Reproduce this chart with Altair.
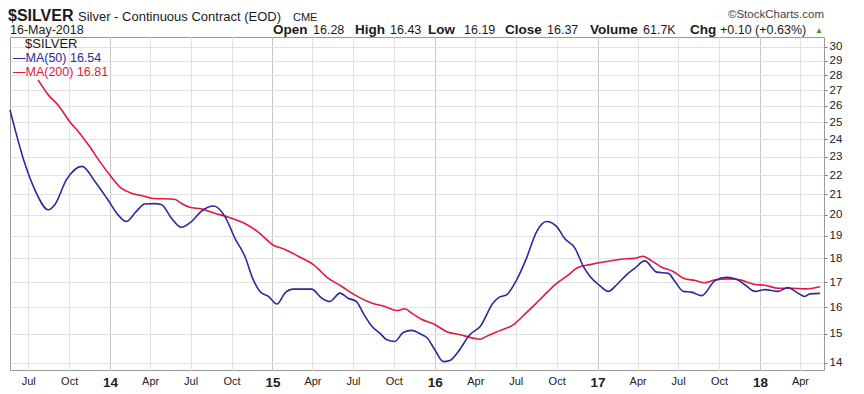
import altair as alt
import pandas as pd

# ---------------- data ----------------
ma50_dates = (
    ["2013-05-21", "2013-06-23", "2013-07-16", "2013-08-15", "2013-08-30", "2013-09-25",
     "2013-10-30", "2013-11-28", "2013-12-27"]
    + ["2014-01-19", "2014-02-06", "2014-03-01", "2014-03-20", "2014-04-11", "2014-04-26",
       "2014-05-19", "2014-06-10", "2014-07-03", "2014-07-25", "2014-08-22", "2014-09-16",
       "2014-10-09", "2014-10-31", "2014-11-19", "2014-12-04", "2014-12-23"]
    + ["2015-01-11", "2015-01-29", "2015-02-17", "2015-03-11", "2015-03-30", "2015-04-22",
       "2015-05-10", "2015-06-02", "2015-06-20", "2015-07-09", "2015-07-24", "2015-08-12",
       "2015-08-31", "2015-09-15", "2015-10-03", "2015-10-22", "2015-11-10", "2015-12-02",
       "2015-12-14"]
    + ["2016-01-01", "2016-01-20", "2016-02-04", "2016-02-23", "2016-03-20", "2016-04-12",
       "2016-05-11", "2016-05-26", "2016-06-10", "2016-07-03", "2016-07-25", "2016-08-17",
       "2016-09-08", "2016-10-01", "2016-10-19", "2016-11-11", "2016-11-30", "2016-12-15"]
    + ["2017-01-06", "2017-01-25", "2017-02-13", "2017-03-07", "2017-03-26", "2017-04-17",
       "2017-05-14", "2017-06-09", "2017-06-24", "2017-07-13", "2017-07-31", "2017-08-23",
       "2017-09-22", "2017-10-18", "2017-11-09", "2017-11-28", "2017-12-21"]
    + ["2018-01-12", "2018-02-11", "2018-03-05", "2018-03-24", "2018-04-12", "2018-04-23",
       "2018-05-16"]
)
ma50_values = (
    [25.75, 22.65, 21.23, 20.24, 20.5, 21.76, 22.47, 21.67, 20.73]
    + [19.99, 19.67, 20.16, 20.52, 20.54, 20.5, 19.83, 19.4, 19.67, 20.16, 20.42, 19.92,
       18.88, 18.09, 17.09, 16.62, 16.42]
    + [16.12, 16.55, 16.71, 16.71, 16.71, 16.35, 16.22, 16.55, 16.35, 16.22, 15.77, 15.29,
       15.02, 14.79, 14.73, 15.05, 15.13, 14.98, 14.87]
    + [14.44, 14.03, 14.07, 14.38, 14.98, 15.27, 16.16, 16.4, 16.48, 17.09, 18.0, 19.2,
       19.67, 19.43, 18.88, 18.45, 17.65, 17.23]
    + [16.85, 16.62, 16.89, 17.3, 17.58, 17.89, 17.41, 17.36, 17.02, 16.62, 16.59, 16.45,
       17.06, 17.2, 17.12, 16.89, 16.62]
    + [16.69, 16.62, 16.78, 16.59, 16.42, 16.52, 16.54]
)

ma200_dates = (
    ["2013-07-23", "2013-08-15", "2013-09-06", "2013-10-02", "2013-10-25", "2013-11-16",
     "2013-12-09", "2013-12-31"]
    + ["2014-01-26", "2014-02-18", "2014-03-12", "2014-04-04", "2014-05-26", "2014-06-10",
       "2014-06-29", "2014-07-25", "2014-08-24", "2014-09-24", "2014-10-31", "2014-11-30"]
    + ["2015-01-03", "2015-01-29", "2015-02-28", "2015-04-03", "2015-05-06", "2015-06-06",
       "2015-07-05", "2015-08-12", "2015-09-11", "2015-10-07", "2015-10-26", "2015-11-10",
       "2015-12-02", "2015-12-29"]
    + ["2016-01-28", "2016-02-27", "2016-03-27", "2016-04-12", "2016-04-27", "2016-05-26",
       "2016-06-25", "2016-07-25", "2016-08-24", "2016-10-01", "2016-10-23", "2016-11-18",
       "2016-12-15"]
    + ["2017-01-21", "2017-03-07", "2017-03-26", "2017-04-13", "2017-05-02", "2017-05-25",
       "2017-06-20", "2017-07-13", "2017-08-08", "2017-08-30", "2017-09-22", "2017-10-22",
       "2017-11-17", "2017-12-21"]
    + ["2018-01-12", "2018-02-11", "2018-03-13", "2018-04-12", "2018-05-16"]
)
ma200_values = (
    [27.68, 26.7, 26.06, 25.04, 24.33, 23.57, 22.73, 22.02]
    + [21.32, 21.06, 20.95, 20.81, 20.76, 20.56, 20.36, 20.28, 20.07, 19.88, 19.58, 19.18]
    + [18.58, 18.39, 18.09, 17.73, 17.16, 16.82, 16.48, 16.16, 16.03, 15.87, 15.94, 15.77,
       15.54, 15.37]
    + [15.08, 14.97, 14.85, 14.81, 14.92, 15.12, 15.33, 15.79, 16.29, 16.95, 17.23, 17.61,
       17.73]
    + [17.86, 17.98, 18.0, 18.09, 17.9, 17.62, 17.44, 17.16, 17.06, 16.97, 17.09, 17.13,
       17.09, 16.9]
    + [16.87, 16.75, 16.75, 16.72, 16.81]
)

x_tick_dates = [
    "2013-07-01", "2013-10-01",
    "2014-01-01", "2014-04-01", "2014-07-01", "2014-10-01",
    "2015-01-01", "2015-04-01", "2015-07-01", "2015-10-01",
    "2016-01-01", "2016-04-01", "2016-07-01", "2016-10-01",
    "2017-01-01", "2017-04-01", "2017-07-01", "2017-10-01",
    "2018-01-01", "2018-04-01",
]
y_ticks = list(range(14, 31))

header_bold = ["Open", "High", "Low", "Close", "Volume", "Chg"]
header_vals = ["16.28", "16.43", "16.19", "16.37", "61.7K", "+0.10 (+0.63%)"]

# ---------------- chart ----------------
FONT = "Liberation Sans"
BLUE = "#2b2a9c"
RED = "#e0193f"


def ms(d):
    return int(pd.Timestamp(d, tz="UTC").value // 10**6)


df50 = pd.DataFrame({"date": ma50_dates, "value": ma50_values})
df200 = pd.DataFrame({"date": ma200_dates, "value": ma200_values})

is_year = "utcmonth(datum.value) == 0"
x_enc = alt.X(
    "date:T",
    scale=alt.Scale(type="utc", domain=[ms("2013-05-21"), ms("2018-05-25")], nice=False),
    axis=alt.Axis(
        values=[ms(d) for d in x_tick_dates],
        labelExpr=f"{is_year} ? utcFormat(datum.value, '%y') : utcFormat(datum.value, '%b')",
        title=None,
        domain=False,
        ticks=False,
        labelOverlap=False,
        labelFlush=False,
        labelPadding=5,
        labelFont=FONT,
        labelColor="#222222",
        labelFontSize={"condition": {"test": is_year, "value": 13.5}, "value": 11},
        labelFontWeight={"condition": {"test": is_year, "value": "bold"}, "value": "normal"},
        gridColor={"condition": {"test": is_year, "value": "#c6c6c6"}, "value": "#e2e2e2"},
        gridWidth=1,
    ),
)
y_enc = alt.Y(
    "value:Q",
    scale=alt.Scale(type="log", domain=[13.75, 30.7], nice=False, zero=False),
    axis=alt.Axis(
        orient="right",
        values=y_ticks,
        format="d",
        title=None,
        domain=False,
        tickSize=3,
        tickColor="#777777",
        labelPadding=2,
        labelOverlap=False,
        labelFont=FONT,
        labelFontSize=11.5,
        labelColor="#222222",
        gridColor="#e2e2e2",
        gridWidth=1,
    ),
)

line200 = alt.Chart(df200).mark_line(color=RED, strokeWidth=1.6, interpolate="monotone").encode(
    x=x_enc, y=y_enc
)
line50 = alt.Chart(df50).mark_line(color=BLUE, strokeWidth=1.6, interpolate="monotone").encode(
    x=x_enc, y=y_enc
)

dummy = pd.DataFrame({"k": [0]})


def label(text, x, y, size, weight="normal", color="#1a1a1a", align="left", baseline="alphabetic"):
    return alt.Chart(dummy).mark_text(
        text=text, font=FONT, fontSize=size, fontWeight=weight, color=color,
        align=align, baseline=baseline,
    ).encode(x=alt.value(x), y=alt.value(y))


texts = [
    label("$SILVER", -2, -16.5, 16, "bold"),
    label("Silver - Continuous Contract (EOD)", 68, -16.5, 13),
    label("CME", 283, -16.5, 11),
    label("\u00a9StockCharts.com", 814, -19, 11.5, color="#444444", align="right"),
    label("16-May-2018", 0, -3.5, 12.5),
]
bold_x = [263, 345, 418, 495, 580, 680]
val_x = [303, 380, 454, 537, 633, 710]
for t, xx in zip(header_bold, bold_x):
    texts.append(label(t, xx, -3.5, 13.5, "bold"))
for t, xx in zip(header_vals, val_x):
    texts.append(label(t, xx, -3.5, 12.5))
texts.append(label("\u25b2", 805, -4.5, 8, color="#2e9a2e"))

# in-chart legend
texts += [
    label("$SILVER", 15, 7, 13, baseline="middle"),
    label("\u2014MA(50) 16.54", 3, 21, 12.5, color=BLUE, baseline="middle"),
    label("\u2014MA(200) 16.81", 3, 35, 12.5, color=RED, baseline="middle"),
]

chart = alt.layer(line200, line50, *texts).properties(
    width=814,
    height=333,
    padding={"left": 2, "top": 29, "right": 30, "bottom": 20},
    autosize=alt.AutoSizeParams(type="none"),
    background="white",
).configure_view(stroke="#9a9a9a", strokeWidth=1)

chart.save("out.html", embed_options={"renderer": "svg", "actions": False})
